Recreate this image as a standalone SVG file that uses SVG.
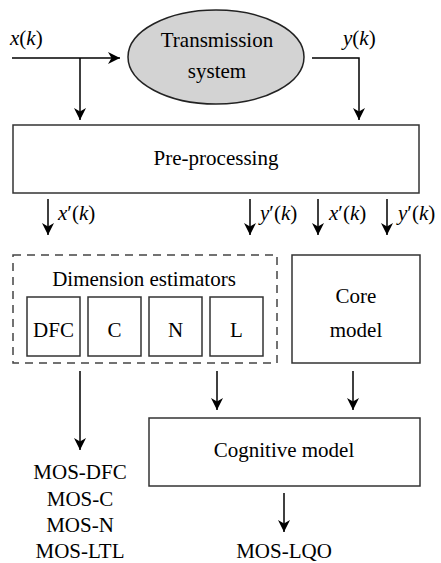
<svg xmlns="http://www.w3.org/2000/svg" width="441" height="563" viewBox="0 0 441 563">
<style>
text{font-family:"Liberation Serif","Times New Roman",serif;font-size:21px;fill:#000}
.c{text-anchor:middle}
.i{font-style:italic}
.box{fill:#fff;stroke:#333;stroke-width:1.5}
.ln{fill:none;stroke:#000;stroke-width:1.5}
</style>
<defs>
<marker id="ah" markerWidth="14" markerHeight="14" refX="12" refY="6" orient="auto" markerUnits="userSpaceOnUse" viewBox="0 0 14 12">
<path d="M0,0 L12,6 L0,12 L3.5,6 Z" fill="#000"/>
</marker>
</defs>
<g id="connectors">
<path class="ln" d="M12,58 H120" marker-end="url(#ah)"/>
<path class="ln" d="M80,58 V120" marker-end="url(#ah)"/>
<path class="ln" d="M312,58 H359 V120" marker-end="url(#ah)"/>
<path class="ln" d="M48,199 V235" marker-end="url(#ah)"/>
<path class="ln" d="M250,199 V235" marker-end="url(#ah)"/>
<path class="ln" d="M318,199 V235" marker-end="url(#ah)"/>
<path class="ln" d="M387,199 V235" marker-end="url(#ah)"/>
<path class="ln" d="M80,371 V450" marker-end="url(#ah)"/>
<path class="ln" d="M217,371 V410" marker-end="url(#ah)"/>
<path class="ln" d="M353,371 V410" marker-end="url(#ah)"/>
<path class="ln" d="M284,493 V532" marker-end="url(#ah)"/>
<text x="10" y="45"><tspan class="i">x</tspan>(<tspan class="i">k</tspan>)</text>
<text x="343" y="45"><tspan class="i">y</tspan>(<tspan class="i">k</tspan>)</text>
<text x="58" y="220"><tspan class="i">x</tspan>′(<tspan class="i">k</tspan>)</text>
<text x="260" y="220"><tspan class="i">y</tspan>′(<tspan class="i">k</tspan>)</text>
<text x="329" y="220"><tspan class="i">x</tspan>′(<tspan class="i">k</tspan>)</text>
<text x="398" y="220"><tspan class="i">y</tspan>′(<tspan class="i">k</tspan>)</text>
</g>
<g id="transmission">
<ellipse cx="216" cy="57" rx="88" ry="47" fill="#d3d3d3" stroke="#222" stroke-width="1.5"/>
<text class="c" x="217" y="47">Transmission</text>
<text class="c" x="217" y="78">system</text>
</g>
<g id="preprocessing">
<rect class="box" x="13" y="125" width="406" height="68"/>
<text class="c" x="216" y="165">Pre-processing</text>
</g>
<g id="dimension-estimators">
<rect x="13" y="255" width="264" height="108" fill="none" stroke="#444" stroke-width="1.5" stroke-dasharray="8,6"/>
<text class="c" x="144" y="286">Dimension estimators</text>
</g>
<g id="dfc"><rect class="box" x="27" y="297" width="53" height="59"/><text class="c" x="53.5" y="337">DFC</text></g>
<g id="c"><rect class="box" x="88" y="297" width="53" height="59"/><text class="c" x="114.5" y="337">C</text></g>
<g id="n"><rect class="box" x="149" y="297" width="53" height="59"/><text class="c" x="175.5" y="337">N</text></g>
<g id="l"><rect class="box" x="210" y="297" width="53" height="59"/><text class="c" x="236.5" y="337">L</text></g>
<g id="core-model">
<rect class="box" x="292" y="255" width="128" height="108"/>
<text class="c" x="356" y="303">Core</text>
<text class="c" x="356" y="337">model</text>
</g>
<g id="cognitive-model">
<rect class="box" x="149" y="418" width="271" height="68"/>
<text class="c" x="284" y="457">Cognitive model</text>
</g>
<g id="mos-outputs">
<text class="c" x="80" y="479">MOS-DFC</text>
<text class="c" x="80" y="506">MOS-C</text>
<text class="c" x="80" y="532">MOS-N</text>
<text class="c" x="80" y="558">MOS-LTL</text>
</g>
<g id="mos-lqo">
<text class="c" x="284" y="558">MOS-LQO</text>
</g>
</svg>
